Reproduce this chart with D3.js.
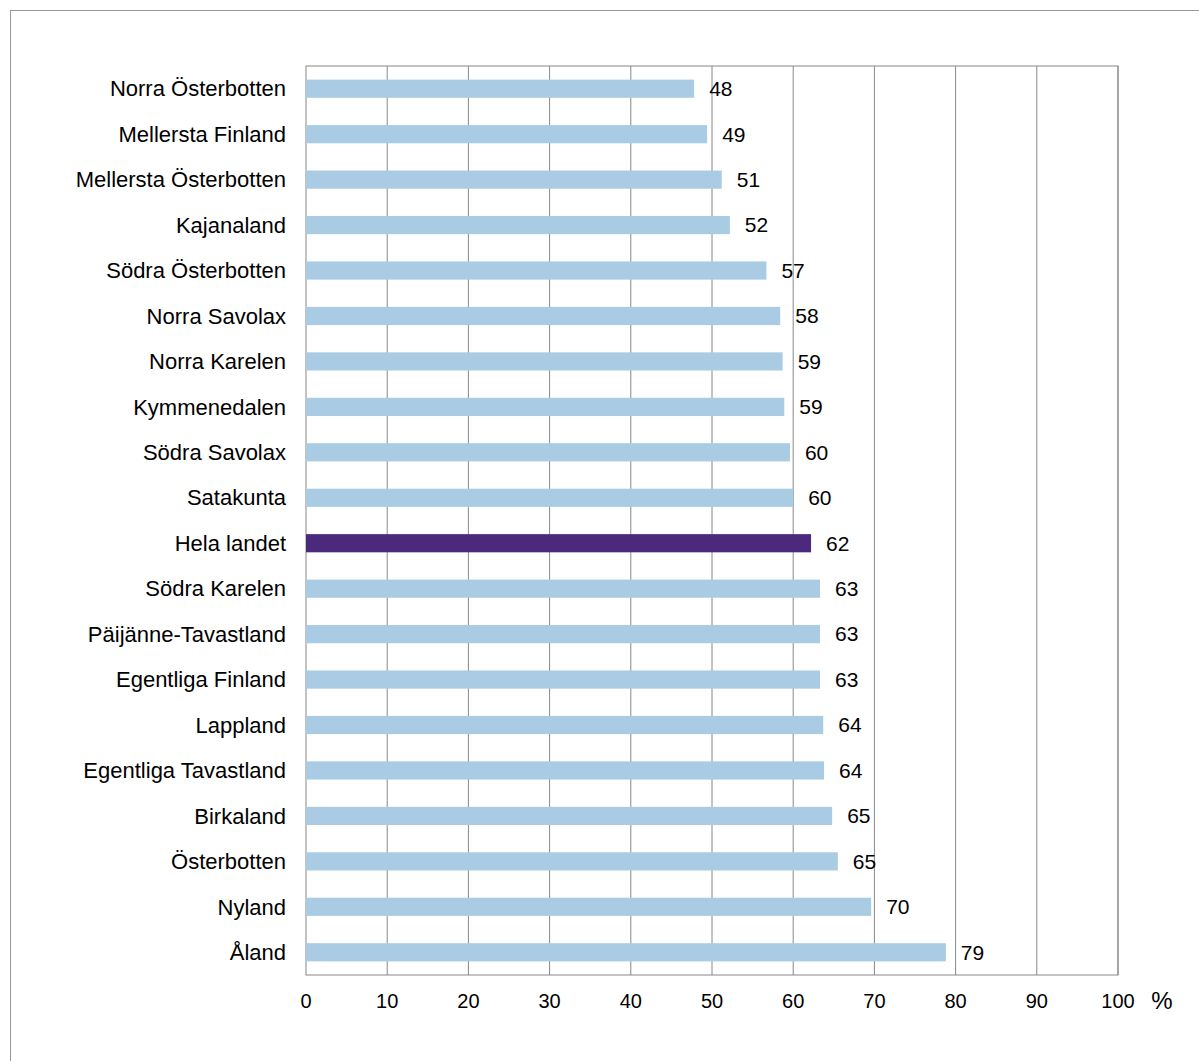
<!DOCTYPE html>
<html><head><meta charset="utf-8">
<script src="https://cdn.jsdelivr.net/npm/d3@7"></script>
<style>body{margin:0;background:#fff}text{font-family:"Liberation Sans",Arial,sans-serif;fill:#000}</style>
</head><body>
<svg id="chart" width="1199" height="1061"></svg>
<script>
const regions = ["Norra Österbotten","Mellersta Finland","Mellersta Österbotten","Kajanaland","Södra Österbotten","Norra Savolax","Norra Karelen","Kymmenedalen","Södra Savolax","Satakunta","Hela landet","Södra Karelen","Päijänne-Tavastland","Egentliga Finland","Lappland","Egentliga Tavastland","Birkaland","Österbotten","Nyland","Åland"];
const values = [47.8,49.4,51.2,52.2,56.7,58.4,58.7,58.9,59.6,60.0,62.2,63.3,63.3,63.3,63.7,63.8,64.8,65.5,69.6,78.8];
const labels = [48,49,51,52,57,58,59,59,60,60,62,63,63,63,64,64,65,65,70,79];
const ticks = [0,10,20,30,40,50,60,70,80,90,100];

const svg = d3.select("#chart");
svg.append("rect").attr("x",10.5).attr("y",10.5).attr("width",1250).attr("height",1100)
  .attr("fill","none").attr("stroke","#999");

const pLeft = 306, pRight = 1118, pTop = 66, pBottom = 975;
const x = d3.scaleLinear().domain([0,100]).range([pLeft,pRight]);
const y = d3.scaleBand().domain(regions).range([pTop,pBottom]).paddingInner(0.6).paddingOuter(0.3);

svg.append("g").selectAll("line").data(ticks.slice(1)).join("line")
  .attr("x1",d=>x(d)).attr("x2",d=>x(d)).attr("y1",pTop).attr("y2",pBottom)
  .attr("stroke","#888").attr("stroke-width",1);
svg.append("rect").attr("x",pLeft).attr("y",pTop).attr("width",pRight-pLeft).attr("height",pBottom-pTop)
  .attr("fill","none").attr("stroke","#888");

svg.append("g").selectAll("rect").data(regions).join("rect")
  .attr("x",pLeft).attr("y",d=>y(d)).attr("height",y.bandwidth())
  .attr("width",(d,i)=>x(values[i])-pLeft)
  .attr("fill",d=>d==="Hela landet"?"#4b2a7e":"#a9cce4");

svg.append("g").selectAll("text").data(regions).join("text")
  .attr("x",(d,i)=>x(values[i])+15).attr("y",d=>y(d)+y.bandwidth()/2).attr("dy","0.35em")
  .attr("font-size",21).text((d,i)=>labels[i]);

svg.append("g").selectAll("text").data(regions).join("text")
  .attr("x",286).attr("y",d=>y(d)+y.bandwidth()/2).attr("dy","0.35em")
  .attr("text-anchor","end").attr("font-size",22).text(d=>d);

svg.append("g").selectAll("text").data(ticks).join("text")
  .attr("x",d=>x(d)).attr("y",1008).attr("text-anchor","middle").attr("font-size",20).text(d=>d);
svg.append("text").attr("x",1162).attr("y",1009).attr("text-anchor","middle").attr("font-size",24).text("%");
</script>
</body></html>
